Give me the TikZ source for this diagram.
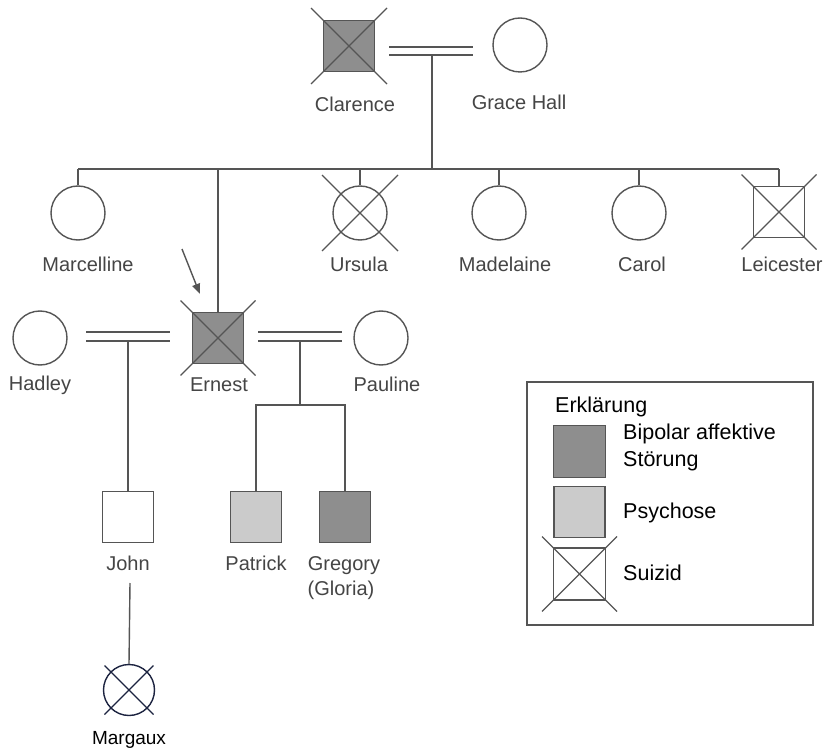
\documentclass[tikz,border=0pt]{standalone}
\usepackage{fontspec}
\setmainfont{Liberation Sans}
\usetikzlibrary{calc,arrows.meta}
\definecolor{ln}{HTML}{555555}
\definecolor{tx}{HTML}{454545}
\definecolor{dk}{HTML}{8E8E8E}
\definecolor{lt}{HTML}{CBCBCB}
\definecolor{nv}{HTML}{1C2340}
\newcommand\pedcross[3][ln]{\draw[draw=#1,line width=1.2pt] ($(#2.center)+(-#3,-#3)$) -- ($(#2.center)+(#3,#3)$) ($(#2.center)+(-#3,#3)$) -- ($(#2.center)+(#3,-#3)$);}
\begin{document}
\begin{tikzpicture}[x=1pt,y=-1pt,
 male/.style={draw=ln,line width=1.4pt,minimum size=51pt,inner sep=0pt,rectangle},
 female/.style={draw=ln,line width=1.4pt,minimum size=54pt,inner sep=0pt,circle},
 lbl/.style={text=tx,font=\fontsize{20}{24}\selectfont,inner sep=0pt,anchor=base},
 leg/.style={text=black,font=\fontsize{21.5}{26}\selectfont,inner sep=0pt,anchor=base west},
 conn/.style={draw=ln,line width=1.4pt}]
\useasboundingbox (0,0) rectangle (827,751);
\fill[white] (0,0) rectangle (827,751);

% generation 1
\node[male,fill=dk] (clarence) at (349,46) {};
\node[female] (grace) at (520,45) {};
\pedcross{clarence}{38}
\node[lbl] (lclarence) at (355,112) {Clarence};
\node[lbl] (lgrace) at (519,110) {Grace Hall};
\coordinate (m1a) at (389,47); \coordinate (m1b) at (473,47);
\coordinate (m1c) at (389,55); \coordinate (m1d) at (473,55);
\coordinate (m1) at (432,55);
\draw[conn] (m1a) -- (m1b) (m1c) -- (m1d);
\coordinate (sibL) at (78,169); \coordinate (sibR) at (779,169);
\draw[conn] (m1) -- (m1 |- sibL);
\draw[conn] (sibL) -- (sibR);

% generation 2
\node[female] (marcelline) at (78,213) {};
\node[female] (ursula) at (360,213) {};
\node[female] (madelaine) at (499,213) {};
\node[female] (carol) at (639,213) {};
\node[male] (leicester) at (779,212) {};
\node[male,fill=dk] (ernest) at (218,338) {};
\pedcross{ursula}{38}
\pedcross{leicester}{37.5}
\pedcross{ernest}{37.5}
\foreach \n in {marcelline,ursula,madelaine,carol,leicester,ernest}
  \draw[conn] (\n.north) -- (\n.north |- sibL);
\node[lbl] at (88,272) {Marcelline};
\node[lbl] at (359,272) {Ursula};
\node[lbl] at (505,272) {Madelaine};
\node[lbl] at (642,272) {Carol};
\node[lbl] at (782,272) {Leicester};
\coordinate (arrs) at (182,249);
\draw[conn,-{Triangle[length=10pt,width=8pt]}] (arrs) -- ($(ernest.north west)+(8,-18)$);

% spouses of Ernest
\node[female] (hadley) at (40,338) {};
\node[female] (pauline) at (381,338) {};
\node[lbl] at (40,390) {Hadley};
\node[lbl] at (219,391) {Ernest};
\node[lbl] at (387,391) {Pauline};
\coordinate (m2a) at (86,332); \coordinate (m2b) at (170,332);
\coordinate (m2c) at (86,341); \coordinate (m2d) at (170,341);
\coordinate (m2) at (128,341);
\draw[conn] (m2a) -- (m2b) (m2c) -- (m2d);
\coordinate (m3a) at (258,332); \coordinate (m3b) at (342,332);
\coordinate (m3c) at (258,341); \coordinate (m3d) at (342,341);
\coordinate (m3) at (300,341);
\draw[conn] (m3a) -- (m3b) (m3c) -- (m3d);

% generation 3
\node[male] (john) at (128,517) {};
\node[male,fill=lt] (patrick) at (256,517) {};
\node[male,fill=dk] (gregory) at (345,517) {};
\draw[conn] (m2) -- (john.north);
\coordinate (sib3) at (300,405);
\draw[conn] (m3) -- (sib3);
\draw[conn] (patrick.north) |- (sib3) -| (gregory.north);
\node[lbl] (ljohn) at (128,570) {John};
\node[lbl] at (256,570) {Patrick};
\node[lbl] at (344,570) {Gregory};
\node[lbl] at (341,595) {(Gloria)};

% generation 4
\node[female,draw=nv,minimum size=51pt] (margaux) at (129,690) {};
\pedcross[nv]{margaux}{24.5}
\coordinate (jtop) at (130,583);
\draw[conn] (jtop) -- (margaux.north);
\node[lbl,text=black,font=\fontsize{19}{22}\selectfont] at (129,744) {Margaux};

% legend
\node[draw=ln,line width=1.4pt,minimum width=286pt,minimum height=243pt,inner sep=0pt] (legend) at (670,503.5) {};
\node[leg] at (555,412) {Erklärung};
\node[male,fill=dk,minimum size=52pt] (kbip) at (579.5,451.5) {};
\node[male,fill=lt,minimum size=51pt] (kpsy) at (579.5,512) {};
\node[male,minimum size=52pt] (ksui) at (579.5,574) {};
\pedcross{ksui}{37.5}
\node[leg] at (623,439) {Bipolar affektive};
\node[leg] at (623,466) {Störung};
\node[leg] at (623,518) {Psychose};
\node[leg] at (623,580) {Suizid};
\end{tikzpicture}
\end{document}
